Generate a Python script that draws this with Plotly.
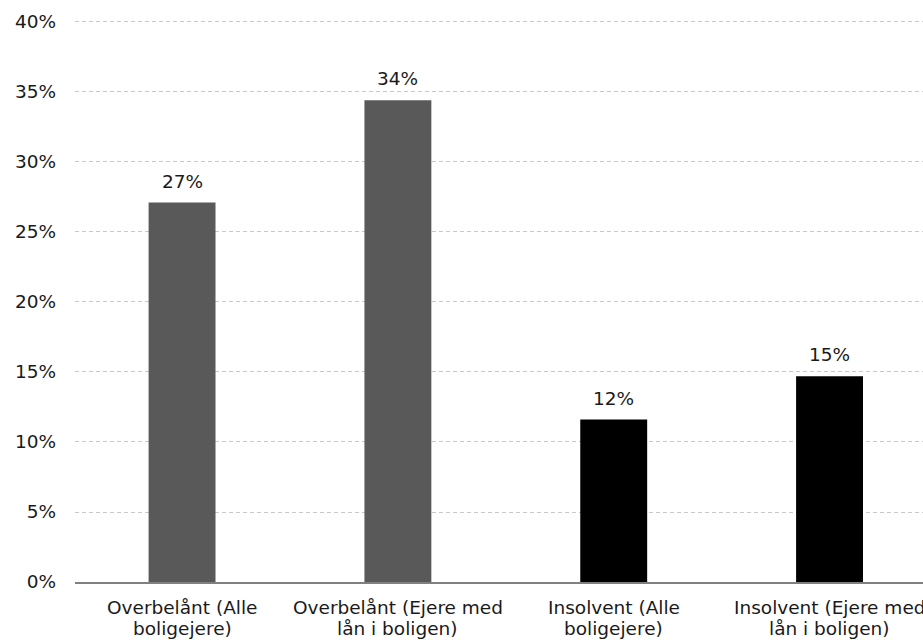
import plotly.graph_objects as go

# Share of home owners (percent)
categories = [
    "Overbelånt (Alle<br>boligejere)",
    "Overbelånt (Ejere med<br>lån i boligen)",
    "Insolvent (Alle<br>boligejere)",
    "Insolvent (Ejere med<br>lån i boligen)",
]
values = [27.1, 34.4, 11.6, 14.7]
bar_colors = ["#595959", "#595959", "#000000", "#000000"]
y_ticks = [0, 5, 10, 15, 20, 25, 30, 35, 40]

FONT = "DejaVu Sans"
TEXT = "#1a1a1a"
FS = 18.5
x_pos = list(range(len(categories)))

fig = go.Figure(
    go.Bar(
        x=x_pos,
        y=values,
        marker=dict(color=bar_colors, line=dict(width=0)),
        width=0.31,
        hoverinfo="skip",
    )
)

# value labels above each bar
for xi, v in zip(x_pos, values):
    fig.add_annotation(
        x=xi, y=v, text=f"{v:.0f}%", showarrow=False,
        yanchor="bottom", yshift=9,
        font=dict(family=FONT, size=FS, color=TEXT),
    )

# category labels under the axis, one annotation per line for tight line spacing
for xi, label in zip(x_pos, categories):
    for k, line in enumerate(label.split("<br>")):
        fig.add_annotation(
            x=xi, xref="x", y=0, yref="paper", text=line, showarrow=False,
            yanchor="middle", yshift=-25 - 21 * k,
            font=dict(family=FONT, size=FS, color=TEXT),
        )

fig.update_layout(
    width=923, height=640,
    margin=dict(l=75, r=0, t=20, b=58, autoexpand=False),
    paper_bgcolor="white", plot_bgcolor="white",
    showlegend=False,
    font=dict(family=FONT, size=FS, color=TEXT),
    xaxis=dict(
        range=[-0.496, 3.433],
        tickmode="array", tickvals=x_pos, showticklabels=False,
        showgrid=False, zeroline=False,
        showline=True, linecolor="#808080", linewidth=2,
        ticks="", automargin=False,
    ),
    yaxis=dict(
        range=[0, 40.14],
        tickmode="array", tickvals=y_ticks,
        ticktext=[f"{t}%" for t in y_ticks],
        showgrid=True, gridcolor="#c8c8c8", griddash="4px,3px", gridwidth=1,
        zeroline=False, showline=False, ticks="",
        ticklabelstandoff=18, automargin=False,
        tickfont=dict(family=FONT, size=FS, color=TEXT),
    ),
)

fig.write_html("out.html")
